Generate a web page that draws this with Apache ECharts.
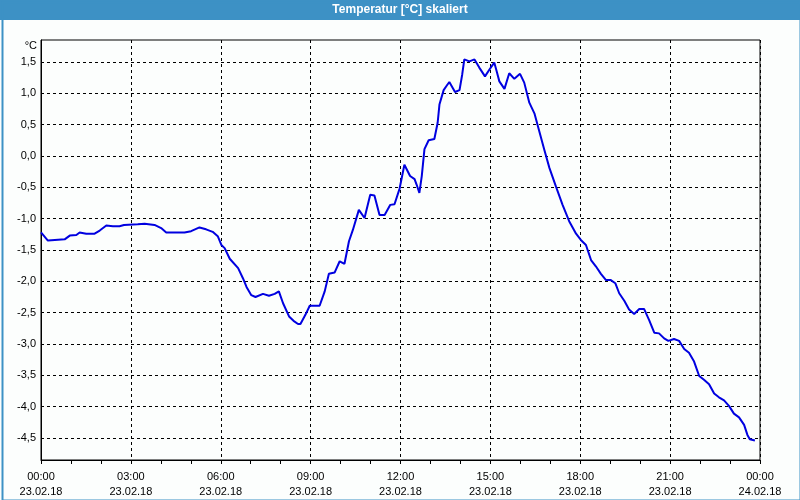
<!DOCTYPE html>
<html>
<head>
<meta charset="utf-8">
<script src="https://cdn.jsdelivr.net/npm/echarts@6/dist/echarts.min.js"></script>
<style>html,body{margin:0;padding:0;background:#fcfefd;}#c{width:800px;height:500px;}</style>
</head>
<body>
<div id="c"></div>
<script>
// Time in hours since 23.02.18 00:00
const hours = [0.0,0.23,0.46,0.79,0.96,1.18,1.29,1.51,1.79,1.96,2.18,2.4,2.62,2.77,3.23,3.46,3.79,4.01,4.18,4.79,5.01,5.29,5.51,5.73,5.9,6.02,6.13,6.3,6.58,6.74,6.86,7.02,7.16,7.41,7.61,7.8,7.94,8.08,8.28,8.43,8.58,8.66,8.83,8.97,9.3,9.47,9.61,9.8,9.97,10.13,10.28,10.41,10.61,10.8,10.99,11.13,11.3,11.47,11.66,11.8,11.97,12.13,12.32,12.47,12.54,12.63,12.71,12.8,12.94,13.13,13.24,13.3,13.44,13.54,13.63,13.82,13.97,14.06,14.13,14.3,14.47,14.63,14.82,14.97,15.13,15.21,15.3,15.47,15.63,15.8,15.99,16.13,16.3,16.47,16.63,16.8,16.97,17.19,17.41,17.63,17.86,18.02,18.19,18.36,18.52,18.69,18.86,19.02,19.17,19.3,19.47,19.63,19.8,19.97,20.13,20.3,20.47,20.63,20.8,20.94,21.13,21.3,21.47,21.63,21.8,21.97,22.13,22.3,22.47,22.63,22.8,22.97,23.13,23.3,23.47,23.58,23.66,23.83];
const temps = [-1.22,-1.35,-1.34,-1.33,-1.27,-1.26,-1.22,-1.24,-1.24,-1.19,-1.11,-1.12,-1.12,-1.10,-1.09,-1.08,-1.10,-1.15,-1.22,-1.22,-1.20,-1.14,-1.17,-1.21,-1.28,-1.42,-1.47,-1.64,-1.79,-1.95,-2.09,-2.22,-2.25,-2.20,-2.23,-2.20,-2.16,-2.35,-2.56,-2.63,-2.68,-2.68,-2.53,-2.39,-2.39,-2.16,-1.88,-1.86,-1.68,-1.72,-1.36,-1.18,-0.86,-0.99,-0.62,-0.63,-0.94,-0.94,-0.78,-0.77,-0.52,-0.14,-0.32,-0.37,-0.46,-0.59,-0.32,0.11,0.25,0.27,0.53,0.82,1.05,1.12,1.18,1.02,1.05,1.30,1.54,1.51,1.54,1.41,1.27,1.38,1.49,1.35,1.19,1.07,1.32,1.23,1.31,1.17,0.85,0.68,0.40,0.10,-0.19,-0.49,-0.78,-1.04,-1.24,-1.34,-1.42,-1.66,-1.76,-1.88,-1.98,-1.98,-2.03,-2.19,-2.31,-2.45,-2.52,-2.44,-2.44,-2.62,-2.82,-2.83,-2.91,-2.95,-2.92,-2.95,-3.08,-3.14,-3.28,-3.51,-3.57,-3.64,-3.79,-3.85,-3.90,-3.99,-4.11,-4.17,-4.29,-4.45,-4.52,-4.54];
const xTickLabels = ['00:00\n23.02.18','03:00\n23.02.18','06:00\n23.02.18','09:00\n23.02.18','12:00\n23.02.18','15:00\n23.02.18','18:00\n23.02.18','21:00\n23.02.18','00:00\n24.02.18'];
const yTicks = [-4.5,-4.0,-3.5,-3.0,-2.5,-2.0,-1.5,-1.0,-0.5,0.0,0.5,1.0,1.5];
const titleText = 'Temperatur [°C] skaliert';
const unitText = '°C';

const chart = echarts.init(document.getElementById('c'), null, {renderer:'canvas'});
const FONT = 'Liberation Sans';
chart.setOption({
  backgroundColor: '#fcfefd',
  animation: false,
  graphic: [
    {type:'rect', left:0, top:0, shape:{width:800, height:20}, style:{fill:'#3d91c5'}, z:0},
    {type:'rect', left:0, top:0, shape:{x:1, y:1, width:798, height:498}, style:{fill:'none', stroke:'#3d91c5', lineWidth:2}, z:0},
    {type:'text', x:400, y:10, style:{text:titleText, fill:'#ffffff', font:'bold 12px "' + FONT + '"', textAlign:'center', textVerticalAlign:'middle'}, z:10},
    {type:'text', x:37, y:46, style:{text:unitText, fill:'#000000', font:'11px "' + FONT + '"', textAlign:'right', textVerticalAlign:'middle'}, z:10}
  ],
  grid: {left:41, right:40, top:40, bottom:40, show:true, borderColor:'#000', borderWidth:1, backgroundColor:'transparent'},
  xAxis: {
    type:'value', min:0, max:24, interval:3,
    axisLine:{show:true, onZero:false, lineStyle:{color:'#000', width:1}},
    axisTick:{show:true, length:4, inside:false, lineStyle:{color:'#000'}},
    minorTick:{show:true, splitNumber:3, length:4, lineStyle:{color:'#000'}},
    splitLine:{show:true, lineStyle:{color:'#000', type:[3,3], width:1}},
    axisLabel:{
      margin:9, color:'#000', fontFamily:FONT, fontSize:11, lineHeight:15,
      formatter: v => xTickLabels[Math.round(v/3)]
    }
  },
  yAxis: {
    type:'value', min:-4.85, max:1.85,
    axisLine:{show:true, onZero:false, lineStyle:{color:'#000', width:1}},
    axisTick:{show:false, customValues: yTicks},
    splitLine:{show:true, lineStyle:{color:'#000', type:[3,3], width:1}},
    axisLabel:{
      customValues: yTicks, margin:5, color:'#000', fontFamily:FONT, fontSize:11,
      formatter: v => v.toFixed(1).replace('.', ',')
    }
  },
  series: [{
    type:'line', data: hours.map((h,i)=>[h, temps[i]]),
    symbol:'none', smooth:false,
    lineStyle:{color:'#0000e0', width:2},
    itemStyle:{color:'#0000e0'}
  }]
});
</script>
</body>
</html>
